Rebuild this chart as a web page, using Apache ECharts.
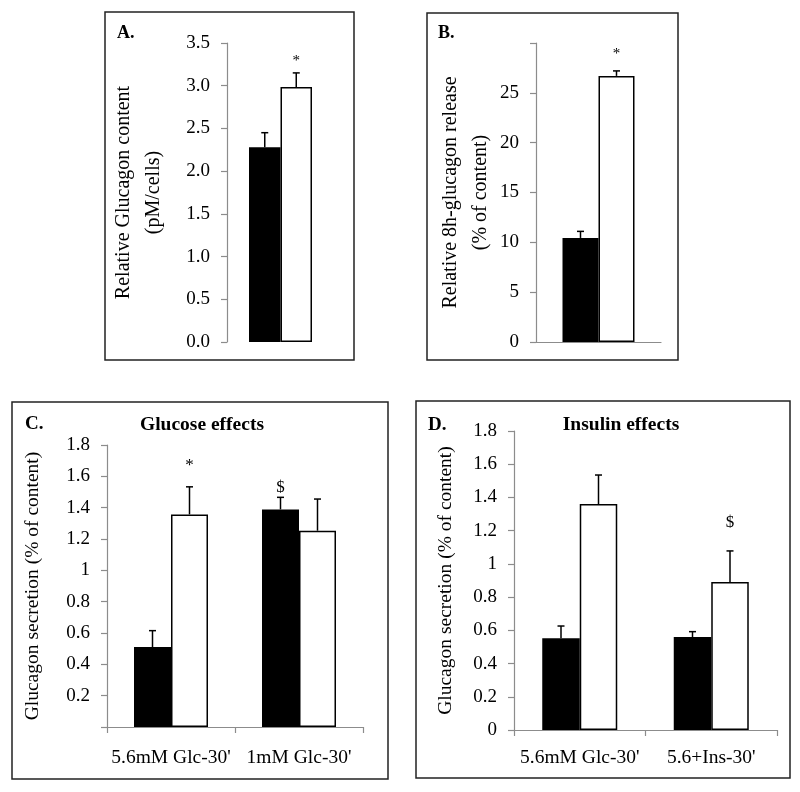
<!DOCTYPE html>
<html>
<head>
<meta charset="utf-8">
<script src="https://cdn.jsdelivr.net/npm/echarts@6/dist/echarts.min.js"></script>
<style>html,body{margin:0;padding:0;background:#fff;}#c{width:800px;height:792px;}</style>
</head>
<body>
<div id="c"></div>
<script>
// Panel A
var catsA = [''];
var blackA = [2.28];
var whiteA = [2.985];
var errBlackA = [0.17];
var errWhiteA = [0.165];
// Panel B
var catsB = [''];
var blackB = [10.44];
var whiteB = [26.7];
var errBlackB = [0.66];
var errWhiteB = [0.5];
// Panel C
var catsC = ["5.6mM Glc-30'", "1mM Glc-30'"];
var blackC = [0.51, 1.389];
var whiteC = [1.357, 1.253];
var errBlackC = [0.105, 0.077];
var errWhiteC = [0.176, 0.202];
// Panel D
var catsD = ["5.6mM Glc-30'", "5.6+Ins-30'"];
var blackD = [0.552, 0.56];
var whiteD = [1.36, 0.891];
var errBlackD = [0.074, 0.032];
var errWhiteD = [0.175, 0.187];
// Significance marks: [category index, bar (0 black / 1 white), text, y position in data units]
var marksA = [[0, 1, '*', 3.29]];
var marksB = [[0, 1, '*', 28.9]];
var marksC = [[0, 1, '*', 1.666], [1, 0, '$', 1.53]];
var marksD = [[1, 1, '$', 1.246]];
// Tick settings
var yA = {min: 0, max: 3.5, interval: 0.5};
var yB = {min: 0, max: 30, interval: 5};
var yC = {min: 0, max: 1.8, interval: 0.2};
var yD = {min: 0, max: 1.8, interval: 0.2};

var FONT = '"Liberation Serif", "Times New Roman", serif';
var AXIS_GRAY = '#8c8c8c';

function errData(black, white, eb, ew) {
  var d = [];
  for (var i = 0; i < black.length; i++) {
    d.push([i, 0, black[i], eb[i]]);
    d.push([i, 1, white[i], ew[i]]);
  }
  return d;
}

function errSeries(idx, bw, data) {
  return {
    type: 'custom', xAxisIndex: idx, yAxisIndex: idx, z: 5,
    data: data,
    renderItem: function (params, api) {
      var c = api.value(0), side = api.value(1), v = api.value(2), e = api.value(3);
      var p0 = api.coord([c, v]);
      var p1 = api.coord([c, v + e]);
      var x = p0[0] + (side === 0 ? -bw / 2 : bw / 2);
      var cap = 3.5;
      return {
        type: 'group',
        children: [
          {type: 'line', shape: {x1: x, y1: p0[1], x2: x, y2: p1[1]}, style: {stroke: '#000', lineWidth: 1.5}},
          {type: 'line', shape: {x1: x - cap, y1: p1[1], x2: x + cap, y2: p1[1]}, style: {stroke: '#000', lineWidth: 1.5}}
        ]
      };
    }
  };
}

function markSeries(idx, bw, data, fs) {
  return {
    type: 'custom', xAxisIndex: idx, yAxisIndex: idx, z: 6,
    data: data,
    renderItem: function (params, api) {
      var c = api.value(0), side = api.value(1), y = api.value(3);
      var p = api.coord([c, y]);
      var x = p[0] + (side === 0 ? -bw / 2 : bw / 2);
      return {
        type: 'text',
        style: {text: data[params.dataIndex][2], x: x, y: p[1], align: 'center', verticalAlign: 'middle',
          fill: '#000', font: fs + 'px ' + FONT}
      };
    }
  };
}

function barPair(idx, bw, black, white) {
  return [
    {type: 'bar', xAxisIndex: idx, yAxisIndex: idx, data: black, barWidth: bw, barGap: '0%',
      itemStyle: {color: '#000'}, silent: true, animation: false},
    {type: 'bar', xAxisIndex: idx, yAxisIndex: idx, data: white, barWidth: bw, barGap: '0%',
      itemStyle: {color: '#fff', borderColor: '#000', borderWidth: 1.5}, silent: true, animation: false}
  ];
}

function yAxisDef(idx, cfg, fmt, name, gap, fs, nfs, hideTop, hideZero) {
  return {
    type: 'value', gridIndex: idx, min: cfg.min, max: cfg.max, interval: cfg.interval,
    splitLine: {show: false},
    axisLine: {show: true, lineStyle: {color: AXIS_GRAY, width: 1.2}},
    axisTick: {show: true, inside: false, length: 6, lineStyle: {color: AXIS_GRAY, width: 1.2}},
    axisLabel: {
      color: '#000', fontFamily: FONT, fontSize: fs, margin: 17,
      formatter: function (v) {
        if (hideTop && Math.abs(v - cfg.max) < 1e-9) return '';
        if (hideZero && Math.abs(v) < 1e-9) return '';
        return fmt(v);
      }
    },
    name: name, nameLocation: 'middle', nameGap: gap, nameRotate: 90,
    nameTextStyle: {color: '#000', fontFamily: FONT, fontSize: nfs, lineHeight: 30}
  };
}

var bwA = 31.5, bwB = 36, bwC = 37, bwD = 37.5;

var option = {
  backgroundColor: '#fff',
  animation: false,
  grid: [
    {left: 227, top: 43, width: 107, height: 299},
    {left: 536, top: 43, width: 125, height: 299},
    {left: 107, top: 445, width: 256, height: 282},
    {left: 514, top: 431, width: 263, height: 299}
  ],
  xAxis: [
    {type: 'category', gridIndex: 0, data: catsA, axisLine: {show: false}, axisTick: {show: false}, axisLabel: {show: false}},
    {type: 'category', gridIndex: 1, data: catsB, axisLine: {show: true, lineStyle: {color: AXIS_GRAY, width: 1.2}}, axisTick: {show: false}, axisLabel: {show: false}},
    {type: 'category', gridIndex: 2, data: catsC,
      axisLine: {show: true, lineStyle: {color: AXIS_GRAY, width: 1.2}},
      axisTick: {show: true, length: 6, lineStyle: {color: AXIS_GRAY, width: 1.2}},
      axisLabel: {color: '#000', fontFamily: FONT, fontSize: 19.5, margin: 21, interval: 0}},
    {type: 'category', gridIndex: 3, data: catsD,
      axisLine: {show: true, lineStyle: {color: AXIS_GRAY, width: 1.2}},
      axisTick: {show: true, length: 6, lineStyle: {color: AXIS_GRAY, width: 1.2}},
      axisLabel: {color: '#000', fontFamily: FONT, fontSize: 19.5, margin: 18, interval: 0}}
  ],
  yAxis: [
    yAxisDef(0, yA, function (v) { return v.toFixed(1); }, 'Relative Glucagon content\n(pM/cells)', 58, 19, 20, false, false),
    yAxisDef(1, yB, function (v) { return String(v); }, 'Relative 8h-glucagon release\n(% of content)', 36, 19, 20, true, false),
    yAxisDef(2, yC, function (v) { return String(Math.round(v * 10) / 10); }, 'Glucagon secretion (% of content)', 59, 19, 19.5, false, true),
    yAxisDef(3, yD, function (v) { return String(Math.round(v * 10) / 10); }, 'Glucagon secretion (% of content)', 53, 19, 19.5, false, false)
  ],
  series: [].concat(
    barPair(0, bwA, blackA, whiteA),
    [errSeries(0, bwA, errData(blackA, whiteA, errBlackA, errWhiteA)), markSeries(0, bwA, marksA, 15)],
    barPair(1, bwB, blackB, whiteB),
    [errSeries(1, bwB, errData(blackB, whiteB, errBlackB, errWhiteB)), markSeries(1, bwB, marksB, 15)],
    barPair(2, bwC, blackC, whiteC),
    [errSeries(2, bwC, errData(blackC, whiteC, errBlackC, errWhiteC)), markSeries(2, bwC, marksC, 17)],
    barPair(3, bwD, blackD, whiteD),
    [errSeries(3, bwD, errData(blackD, whiteD, errBlackD, errWhiteD)), markSeries(3, bwD, marksD, 17)]
  ),
  graphic: [
    {type: 'rect', shape: {x: 105, y: 12, width: 249, height: 348}, style: {fill: 'none', stroke: '#222', lineWidth: 1.5}, z: 0},
    {type: 'rect', shape: {x: 427, y: 13, width: 251, height: 347}, style: {fill: 'none', stroke: '#222', lineWidth: 1.5}, z: 0},
    {type: 'rect', shape: {x: 12, y: 402, width: 376, height: 377}, style: {fill: 'none', stroke: '#222', lineWidth: 1.5}, z: 0},
    {type: 'rect', shape: {x: 416, y: 401, width: 374, height: 377}, style: {fill: 'none', stroke: '#222', lineWidth: 1.5}, z: 0},
    {type: 'text', x: 117, y: 33, style: {text: 'A.', font: 'bold 18px ' + FONT, fill: '#000', verticalAlign: 'middle'}},
    {type: 'text', x: 438, y: 33, style: {text: 'B.', font: 'bold 18px ' + FONT, fill: '#000', verticalAlign: 'middle'}},
    {type: 'text', x: 25, y: 424, style: {text: 'C.', font: 'bold 19px ' + FONT, fill: '#000', verticalAlign: 'middle'}},
    {type: 'text', x: 428, y: 425, style: {text: 'D.', font: 'bold 19px ' + FONT, fill: '#000', verticalAlign: 'middle'}},
    {type: 'text', x: 202, y: 425, style: {text: 'Glucose effects', font: 'bold 19.5px ' + FONT, fill: '#000', align: 'center', verticalAlign: 'middle'}},
    {type: 'text', x: 621, y: 425, style: {text: 'Insulin effects', font: 'bold 19.5px ' + FONT, fill: '#000', align: 'center', verticalAlign: 'middle'}}
  ]
};

var chart = echarts.init(document.getElementById('c'), null, {renderer: 'canvas'});
chart.setOption(option);
</script>
</body>
</html>
